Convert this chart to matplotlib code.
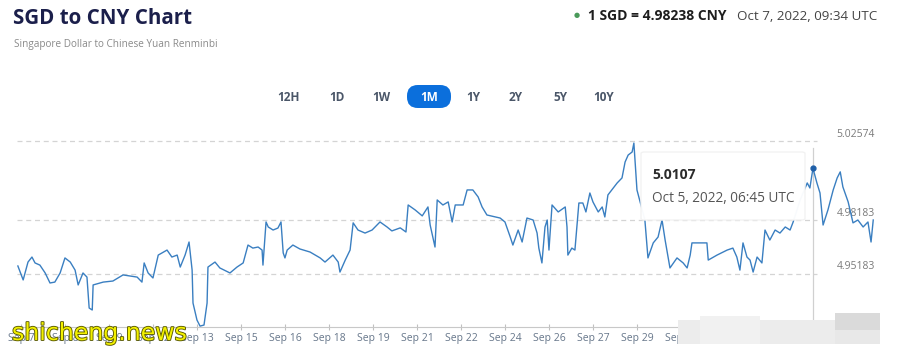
import numpy as np
import matplotlib.pyplot as plt
import matplotlib.patheffects as pe
from matplotlib.patches import FancyBboxPatch, Rectangle

plt.rcParams['font.family'] = ['Open Sans', 'DejaVu Sans']

# SGD -> CNY, last month (x in trading-session units, 0 = first tick)
x_pos = [-0.14, -0.02, 0.09, 0.18, 0.25, 0.36, 0.48, 0.59, 0.70, 0.82,
         0.93, 1.05, 1.16, 1.23, 1.34, 1.43, 1.48, 1.55, 1.57, 1.80,
         2.02, 2.25, 2.57, 2.68, 2.73, 2.82, 2.93, 3.05, 3.25, 3.36,
         3.48, 3.55, 3.66, 3.75, 3.82, 3.84, 3.93, 4.00, 4.09, 4.16,
         4.18, 4.34, 4.45, 4.68, 4.84, 4.98, 5.09, 5.20, 5.32, 5.41,
         5.43, 5.50, 5.55, 5.66, 5.77, 5.84, 5.89, 5.93, 5.98, 6.11,
         6.27, 6.50, 6.73, 6.84, 7.02, 7.14, 7.18, 7.30, 7.41, 7.48,
         7.59, 7.75, 7.91, 8.09, 8.25, 8.36, 8.55, 8.68, 8.73, 8.89,
         9.05, 9.18, 9.23, 9.34, 9.39, 9.52, 9.64, 9.73, 9.80, 9.98,
         10.07, 10.20, 10.32, 10.41, 10.52, 10.82, 10.93, 11.05, 11.11, 11.23,
         11.32, 11.43, 11.57, 11.66, 11.70, 11.77, 11.84, 11.89, 11.93, 12.00,
         12.14, 12.30, 12.34, 12.36, 12.45, 12.52, 12.61, 12.70, 12.77, 12.86,
         12.93, 13.05, 13.14, 13.20, 13.27, 13.48, 13.59, 13.66, 13.73, 13.82,
         13.86, 13.89, 13.93, 14.11, 14.18, 14.30, 14.41, 14.50, 14.57, 14.68,
         14.84, 14.98, 15.07, 15.14, 15.18, 15.52, 15.55, 15.75, 15.98, 16.11,
         16.20, 16.27, 16.34, 16.43, 16.50, 16.57, 16.66, 16.77, 16.84, 16.95,
         17.07, 17.18, 17.30, 17.41, 17.48, 17.64, 17.80, 17.86, 17.93, 18.02,
         18.09, 18.16, 18.27, 18.39, 18.48, 18.55, 18.61, 18.73, 18.84, 18.95,
         19.07, 19.18, 19.25, 19.30]
rate = [4.9561, 4.9483, 4.9583, 4.9611, 4.9578, 4.9566, 4.9522, 4.9466, 4.9471, 4.9522,
        4.9606, 4.9583, 4.9538, 4.9455, 4.9522, 4.9499, 4.9326, 4.9315, 4.9455, 4.9471,
        4.9477, 4.9511, 4.9499, 4.9471, 4.9578, 4.9522, 4.9494, 4.9622, 4.9650, 4.9611,
        4.9622, 4.9555, 4.9622, 4.9695, 4.9538, 4.9354, 4.9259, 4.9225, 4.9231, 4.9354,
        4.9555, 4.9583, 4.9550, 4.9522, 4.9555, 4.9578, 4.9678, 4.9661, 4.9667, 4.9650,
        4.9566, 4.9807, 4.9779, 4.9762, 4.9773, 4.9807, 4.9634, 4.9606, 4.9650, 4.9678,
        4.9656, 4.9639, 4.9606, 4.9583, 4.9622, 4.9583, 4.9527, 4.9594, 4.9650, 4.9802,
        4.9762, 4.9745, 4.9762, 4.9807, 4.9779, 4.9757, 4.9774, 4.9751, 4.9902, 4.9874,
        4.9841, 4.9891, 4.9790, 4.9667, 4.9930, 4.9902, 4.9919, 4.9807, 4.9902, 4.9902,
        4.9986, 4.9986, 4.9947, 4.9891, 4.9846, 4.9829, 4.9807, 4.9723, 4.9678, 4.9762,
        4.9695, 4.9829, 4.9818, 4.9745, 4.9661, 4.9578, 4.9779, 4.9818, 4.9650, 4.9902,
        4.9863, 4.9891, 4.9779, 4.9622, 4.9661, 4.9650, 4.9913, 4.9913, 4.9863, 4.9969,
        4.9919, 4.9863, 4.9891, 4.9835, 4.9958, 5.0025, 5.0053, 5.0142, 5.0181, 5.0198,
        5.0248, 5.0137, 4.9986, 4.9818, 4.9606, 4.9690, 4.9723, 4.9818, 4.9706, 4.9550,
        4.9606, 4.9578, 4.9550, 4.9622, 4.9690, 4.9690, 4.9594, 4.9622, 4.9650, 4.9661,
        4.9611, 4.9538, 4.9690, 4.9611, 4.9594, 4.9527, 4.9611, 4.9578, 4.9762, 4.9706,
        4.9762, 4.9745, 4.9779, 4.9762, 4.9807, 4.9930, 5.0025, 4.9997, 5.0107, 5.0025,
        4.9969, 4.9790, 4.9874, 4.9986, 5.0053, 5.0087, 5.0003, 4.9919, 4.9802, 4.9818,
        4.9779, 4.9807, 4.9695, 4.9818]

tick_labels = ['Sep 7', 'Sep 8', 'Sep 9', 'Sep 12', 'Sep 13', 'Sep 15', 'Sep 16',
               'Sep 18', 'Sep 19', 'Sep 21', 'Sep 22', 'Sep 24', 'Sep 26',
               'Sep 27', 'Sep 29', 'Sep 30']
grid_levels = [5.02574, 4.98183, 4.95183]
ranges = ['12H', '1D', '1W', '1M', '1Y', '2Y', '5Y', '10Y']
hover_x, hover_rate = 17.93, 5.0107

W, H = 900, 353
fig = plt.figure(figsize=(9, 3.53), dpi=100)
fig.patch.set_facecolor('white')

def fx(px):
    return px / W

def fy(py):
    return 1 - py / H

ax = fig.add_axes([fx(17), fy(327), fx(875) - fx(17), fy(130) - fy(327)])
ax.set_facecolor('none')
ax.set_xlim(-0.16, 19.34)
ax.set_ylim(4.9220, 5.0321)

for lev in grid_levels:
    ax.axhline(lev, xmin=0, xmax=0.932, color='#d4d4d4', lw=0.9, ls=(0, (4, 3)), zorder=1)
    ax.text(1.0, lev + 0.0038, f'{lev:.5f}', transform=ax.get_yaxis_transform(),
            ha='right', va='center', fontsize=7.5, color='#7a7a7a')

line_col = '#3a7fc1'
ax.plot(x_pos, rate, color=line_col, lw=1.0, zorder=3)

# crosshair + hovered point
ax.axvline(hover_x, ymin=0.02, ymax=0.91, color='#d0d0d0', lw=0.9, zorder=2)
ax.plot([hover_x], [hover_rate], 'o', color='#1f5fa8', ms=3.5, zorder=4)

ax.spines[['top', 'right', 'left']].set_visible(False)
ax.spines['bottom'].set_color('#c8c8c8')
ax.set_yticks([])
ax.set_xticks(np.arange(len(tick_labels)) - 0.07)
ax.set_xticklabels(tick_labels)
ax.tick_params(axis='x', length=4, direction='inout', color='#c0c0c0',
               labelsize=7.5, labelcolor='#66768a', pad=2)

# tooltip
tip = FancyBboxPatch((fx(641), fy(220)), fx(805) - fx(641), fy(152) - fy(220),
                     boxstyle='round,pad=0,rounding_size=0.004', transform=fig.transFigure,
                     facecolor='white', edgecolor='#f2f2f2', lw=1.0, alpha=0.97, zorder=5)
fig.patches.append(tip)
fig.text(fx(652), fy(175), f'{hover_rate:.4f}', fontsize=10, fontweight='bold',
         color='#2b2b2b', va='center', zorder=6)
fig.text(fx(652), fy(198), 'Oct 5, 2022, 06:45 UTC', fontsize=9.8,
         color='#555555', va='center', zorder=6)

# header
fig.text(fx(13), fy(18), 'SGD to CNY Chart', fontsize=14.8, fontweight='bold',
         color='#1b1f4b', va='center')
fig.text(fx(14), fy(45), 'Singapore Dollar to Chinese Yuan Renminbi', fontsize=7.2,
         color='#8a8a8a', va='center')
fig.text(fx(577), fy(16), '\u25CF', fontsize=5, color='#4a9a5a', ha='center', va='center')
fig.text(fx(588), fy(16), '1 SGD = 4.98238 CNY', fontsize=10, fontweight='bold',
         color='#1e1e1e', va='center')
fig.text(fx(737), fy(16), 'Oct 7, 2022, 09:34 UTC', fontsize=9.6, color='#444444', va='center')

# range buttons
btn_x = [288, 337, 381, 429, 473, 516, 560, 604]
pill = FancyBboxPatch((fx(407), fy(108)), fx(451) - fx(407), fy(85) - fy(108),
                      boxstyle='round,pad=0,rounding_size=0.012', transform=fig.transFigure,
                      facecolor='#0b6fdc', edgecolor='none', mutation_aspect=2.55)
fig.patches.append(pill)
for lab, bx in zip(ranges, btn_x):
    sel = lab == '1M'
    fig.text(fx(bx), fy(97), lab, fontsize=8.5, fontweight='bold',
             color='white' if sel else '#4a5668', ha='center', va='center')

# blurred patch over the last labels (as in the screenshot)
for x0, y0, w, h, c in [(678, 320, 160, 24, '#ececec'), (700, 316, 60, 28, '#f1f1f1'),
                        (835, 313, 45, 20, '#dadada'), (835, 330, 45, 14, '#e8e8e8')]:
    fig.patches.append(Rectangle((fx(x0), fy(y0 + h)), w / W, h / H,
                                 transform=fig.transFigure, facecolor=c,
                                 edgecolor='none', zorder=7))

# watermark
fig.text(fx(12), fy(340), 'shicheng.news', fontsize=17, color='#f2f000',
         family=['DejaVu Sans'], va='baseline', zorder=8,
         path_effects=[pe.withStroke(linewidth=1.3, foreground='#5a5a00')])

fig.savefig('out.png', dpi=100, facecolor='white')
